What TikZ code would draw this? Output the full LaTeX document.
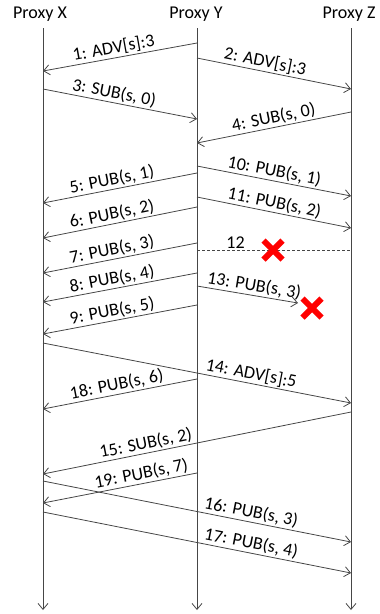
\documentclass[tikz,border=0pt]{standalone}
\usepackage{fontspec}
\setmainfont{Carlito}
\usetikzlibrary{arrows.meta,calc}
\definecolor{linegray}{RGB}{70,70,70}
\definecolor{crossred}{RGB}{255,0,0}
\begin{document}
\begin{tikzpicture}[x=1pt,y=-1pt,
  txt/.style={font=\fontsize{18}{20}\selectfont, text=black},
  hdr/.style={txt, anchor=base, inner sep=0pt},
  life/.style={draw=linegray, line width=0.8pt, -{Straight Barb[length=6pt,width=10pt]}},
  msg/.style={draw=linegray, line width=0.8pt, -{Straight Barb[length=6pt,width=10pt]}},
  lost/.style={draw=linegray, line width=0.8pt, dash pattern=on 3pt off 2pt},
  lbl/.style={txt, sloped, above, inner sep=1.5pt},
  cross/.style={draw=crossred, line width=6pt, line cap=butt}]
\useasboundingbox (0,0) rectangle (380,614);

% headers
\node[hdr] (hx) at (40,18) {Proxy X};
\node[hdr] (hy) at (196,18) {Proxy Y};
\node[hdr] (hz) at (349,18) {Proxy Z};

% lifelines
\coordinate (xt) at (43,28);  \coordinate (xb) at (43,610);
\coordinate (yt) at (197,28); \coordinate (yb) at (197,610);
\coordinate (zt) at (351,28); \coordinate (zb) at (351,610);
\draw[life] (xt) -- (xb);
\draw[life] (yt) -- (yb);
\draw[life] (zt) -- (zb);

% messages
\coordinate (m1s) at (197,43);  \coordinate (m1e) at (43,71);
\draw[msg] (m1s) -- node[lbl,pos=0.53]{1: ADV[s]:3} (m1e);

\coordinate (m2s) at (197,58);  \coordinate (m2e) at (351,89);
\draw[msg] (m2s) -- node[lbl,pos=0.43]{2: ADV[s]:3} (m2e);

\coordinate (m3s) at (43,89);   \coordinate (m3e) at (197,119);
\draw[msg] (m3s) -- node[lbl,pos=0.45]{3: SUB(s, 0)} (m3e);

\coordinate (m4s) at (351,112); \coordinate (m4e) at (197,143);
\draw[msg] (m4s) -- node[lbl,pos=0.49]{4: SUB(s, 0)} (m4e);

\coordinate (m10s) at (197,166); \coordinate (m10e) at (351,196);
\draw[msg] (m10s) -- node[lbl,pos=0.49]{10: PUB(s, 1)} (m10e);

\coordinate (m5s) at (197,173); \coordinate (m5e) at (43,203);
\draw[msg] (m5s) -- node[lbl,pos=0.54]{5: PUB(s, 1)} (m5e);

\coordinate (m11s) at (197,197); \coordinate (m11e) at (351,228);
\draw[msg] (m11s) -- node[lbl,pos=0.49]{11: PUB(s, 2)} (m11e);

\coordinate (m6s) at (197,207); \coordinate (m6e) at (43,238);
\draw[msg] (m6s) -- node[lbl,pos=0.54]{6: PUB(s, 2)} (m6e);

\coordinate (m7s) at (197,243); \coordinate (m7e) at (43,273);
\draw[msg] (m7s) -- node[lbl,pos=0.54]{7: PUB(s, 3)} (m7e);

\coordinate (m12s) at (197,250); \coordinate (m12e) at (351,250);
\draw[lost] (m12s) -- node[txt,above,pos=0.25,inner sep=1.5pt]{12} (m12e);

\coordinate (m8s) at (197,273); \coordinate (m8e) at (43,302);
\draw[msg] (m8s) -- node[lbl,pos=0.54]{8: PUB(s, 4)} (m8e);

\coordinate (m13s) at (197,286); \coordinate (m13e) at (298,303);
\draw[msg] (m13s) -- node[lbl,pos=0.55]{13: PUB(s, 3)} (m13e);

\coordinate (m9s) at (197,305); \coordinate (m9e) at (43,334);
\draw[msg] (m9s) -- node[lbl,pos=0.54]{9: PUB(s, 5)} (m9e);

\coordinate (m14s) at (43,343); \coordinate (m14e) at (351,403);
\draw[msg] (m14s) -- node[lbl,pos=0.67]{14: ADV[s]:5} (m14e);

\coordinate (m18s) at (197,379); \coordinate (m18e) at (43,409);
\draw[msg] (m18s) -- node[lbl,pos=0.51]{18: PUB(s, 6)} (m18e);

\coordinate (m15s) at (351,412); \coordinate (m15e) at (43,474);
\draw[msg] (m15s) -- node[lbl,pos=0.66]{15: SUB(s, 2)} (m15e);

\coordinate (m19s) at (197,473); \coordinate (m19e) at (43,503);
\draw[msg] (m19s) -- node[lbl,pos=0.35]{19: PUB(s, 7)} (m19e);

\coordinate (m16s) at (43,481); \coordinate (m16e) at (351,542);
\draw[msg] (m16s) -- node[lbl,pos=0.67]{16: PUB(s, 3)} (m16e);

\coordinate (m17s) at (43,512); \coordinate (m17e) at (351,573);
\draw[msg] (m17s) -- node[lbl,pos=0.67]{17: PUB(s, 4)} (m17e);

% lost-message crosses
\coordinate (c1) at (273,250);
\coordinate (c2) at (312,308);
\draw[cross] ($(c1)+(-9.5,-9.5)$) -- ($(c1)+(9.5,9.5)$);
\draw[cross] ($(c1)+(-9.5,9.5)$) -- ($(c1)+(9.5,-9.5)$);
\draw[cross] ($(c2)+(-9.5,-9.5)$) -- ($(c2)+(9.5,9.5)$);
\draw[cross] ($(c2)+(-9.5,9.5)$) -- ($(c2)+(9.5,-9.5)$);
\end{tikzpicture}
\end{document}
